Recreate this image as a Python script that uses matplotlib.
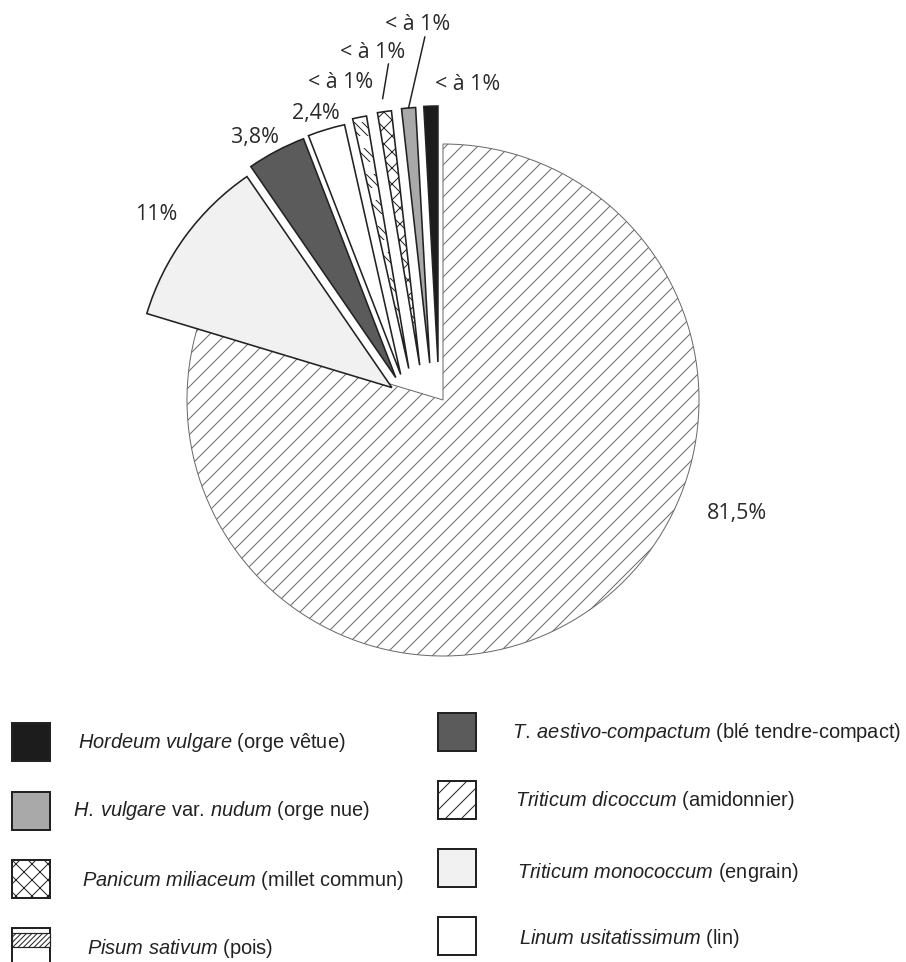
import numpy as np
import matplotlib
matplotlib.use('Agg')
import matplotlib.pyplot as plt
from matplotlib.patches import Rectangle

DPI = 48          # hatch unit = DPI pixels, gives ~8 px hatch spacing
W, H = 906, 962


def pt(px):
    return px * 72 / DPI


plt.rcParams['hatch.linewidth'] = pt(1.0)
plt.rcParams['mathtext.fontset'] = 'custom'
plt.rcParams['mathtext.it'] = 'Liberation Sans:italic'
plt.rcParams['mathtext.rm'] = 'Liberation Sans'

# data, clockwise from 12 o'clock
species = ['Triticum dicoccum', 'Triticum monococcum', 'T. aestivo-compactum',
           'Linum usitatissimum', 'Pisum sativum', 'Panicum miliaceum',
           'H. vulgare var. nudum', 'Hordeum vulgare']
shares = [81.5, 11, 3.8, 2.4, 0.9, 0.9, 0.9, 0.9]
pct_labels = ['81,5%', '11%', '3,8%', '2,4%', '< à 1%', '< à 1%', '< à 1%', '< à 1%']
legend_text = [r'$\mathit{Triticum}$ $\mathit{dicoccum}$ (amidonnier)',
               r'$\mathit{Triticum}$ $\mathit{monococcum}$ (engrain)',
               r'$\mathit{T.\:aestivo}$-$\mathit{compactum}$ (blé tendre-compact)',
               r'$\mathit{Linum}$ $\mathit{usitatissimum}$ (lin)',
               r'$\mathit{Pisum}$ $\mathit{sativum}$ (pois)',
               r'$\mathit{Panicum}$ $\mathit{miliaceum}$ (millet commun)',
               r'$\mathit{H.\:vulgare}$ var. $\mathit{nudum}$ (orge nue)',
               r'$\mathit{Hordeum}$ $\mathit{vulgare}$ (orge vêtue)']

# styles
faces = ['white', '#f1f1f1', '#5b5b5b', 'white', 'white', 'white', '#a9a9a9', '#1c1c1c']
hatches = ['/', '', '', '', '', 'x', '', '']
edges = ['#6a6a6a'] + ['#222222'] * 7
expl_px = [0, 52.6, 52.3, 49.4, 46.5, 41.9, 39.2, 38.3]
turn_deg = [0, 22.5, 36.8, 42, 36.3, 25.9, 15, 6]

cx, cy, R = 443, H - 400, 256

fig = plt.figure(figsize=(W / DPI, H / DPI), dpi=DPI)
ax = fig.add_axes([0, 0, 1, 1])

wedges, _ = ax.pie(shares, radius=R, center=(cx, cy), startangle=90,
                   counterclock=False, colors=faces, hatch=hatches,
                   wedgeprops=dict(linewidth=pt(1.6)))
for w, ec, d, t in zip(wedges, edges, expl_px, turn_deg):
    w.set_edgecolor(ec)
    mid = np.deg2rad((w.theta1 + w.theta2) / 2 + t)
    w.set_center((cx + d * np.cos(mid), cy + d * np.sin(mid)))
wedges[0].set_linewidth(pt(1.0))

# banded hatch of the pea slice
pea = wedges[4]
px_, py_ = pea.center
pmid = np.deg2rad((pea.theta1 + pea.theta2) / 2)
top = py_ + R * np.sin(pmid)
for k in range(10):
    y1 = top - 5 - k * 26
    band = Rectangle((px_ - R, y1 - 14), R, 14, facecolor='none',
                     edgecolor='#222222', lw=0, hatch='\\\\')
    ax.add_patch(band)
    band.set_clip_path(pea)

# percentage labels (y measured from top)
label_pos = [(737, 513), (156, 215), (255, 137), (316, 113),
             (341, 83), (373, 52), (418, 25), (468, 85)]
leader = {5: (13, 0.74), 6: (0, 0.61)}
for i, (txt, (lx, ly)) in enumerate(zip(pct_labels, label_pos)):
    kw = dict(ha='center', va='center', fontsize=pt(21.4), color='#2a2a2a',
              family='Open Sans')
    if i in leader:
        gap, rel = leader[i]
        w = wedges[i]
        mid = np.deg2rad((w.theta1 + w.theta2) / 2)
        wx, wy = w.center
        tip = (wx + (R + gap) * np.cos(mid), wy + (R + gap) * np.sin(mid))
        ax.annotate(txt, xy=tip, xytext=(lx, H - ly),
                    arrowprops=dict(arrowstyle='-', color='#222222', lw=pt(1.5),
                                    relpos=(rel, 0), shrinkA=0, shrinkB=0), **kw)
    else:
        ax.text(lx, H - ly, txt, **kw)

# legend
left_rows = [7, 6, 5, 4]
right_rows = [2, 0, 1, 3]
box = 38
cols = [
    (left_rows, 12, [742, 811, 879, 947], [78, 73, 82, 87], [742, 810, 880, 948]),
    (right_rows, 438, [732, 800, 868, 936], [512, 515, 517, 519], [732, 800, 872, 938]),
]
for rows, bx, bys, txs, tys in cols:
    for i, by, tx, ty in zip(rows, bys, txs, tys):
        ax.add_patch(Rectangle((bx, H - by - box / 2), box, box, facecolor=faces[i],
                               edgecolor='#222222', lw=pt(2.0), hatch=hatches[i]))
        if i == 4:
            ax.add_patch(Rectangle((bx, H - by - box / 2 + 19), box, 14,
                                   facecolor='white', edgecolor='#222222',
                                   lw=pt(1.2), hatch='///'))
        ax.text(tx, H - ty, legend_text[i], ha='left', va='center',
                fontsize=pt(20.0), color='#222222', family='Liberation Sans')

ax.set_xlim(0, W)
ax.set_ylim(0, H)
ax.set_aspect('equal')
ax.axis('off')

fig.savefig('out.png', dpi=DPI)
